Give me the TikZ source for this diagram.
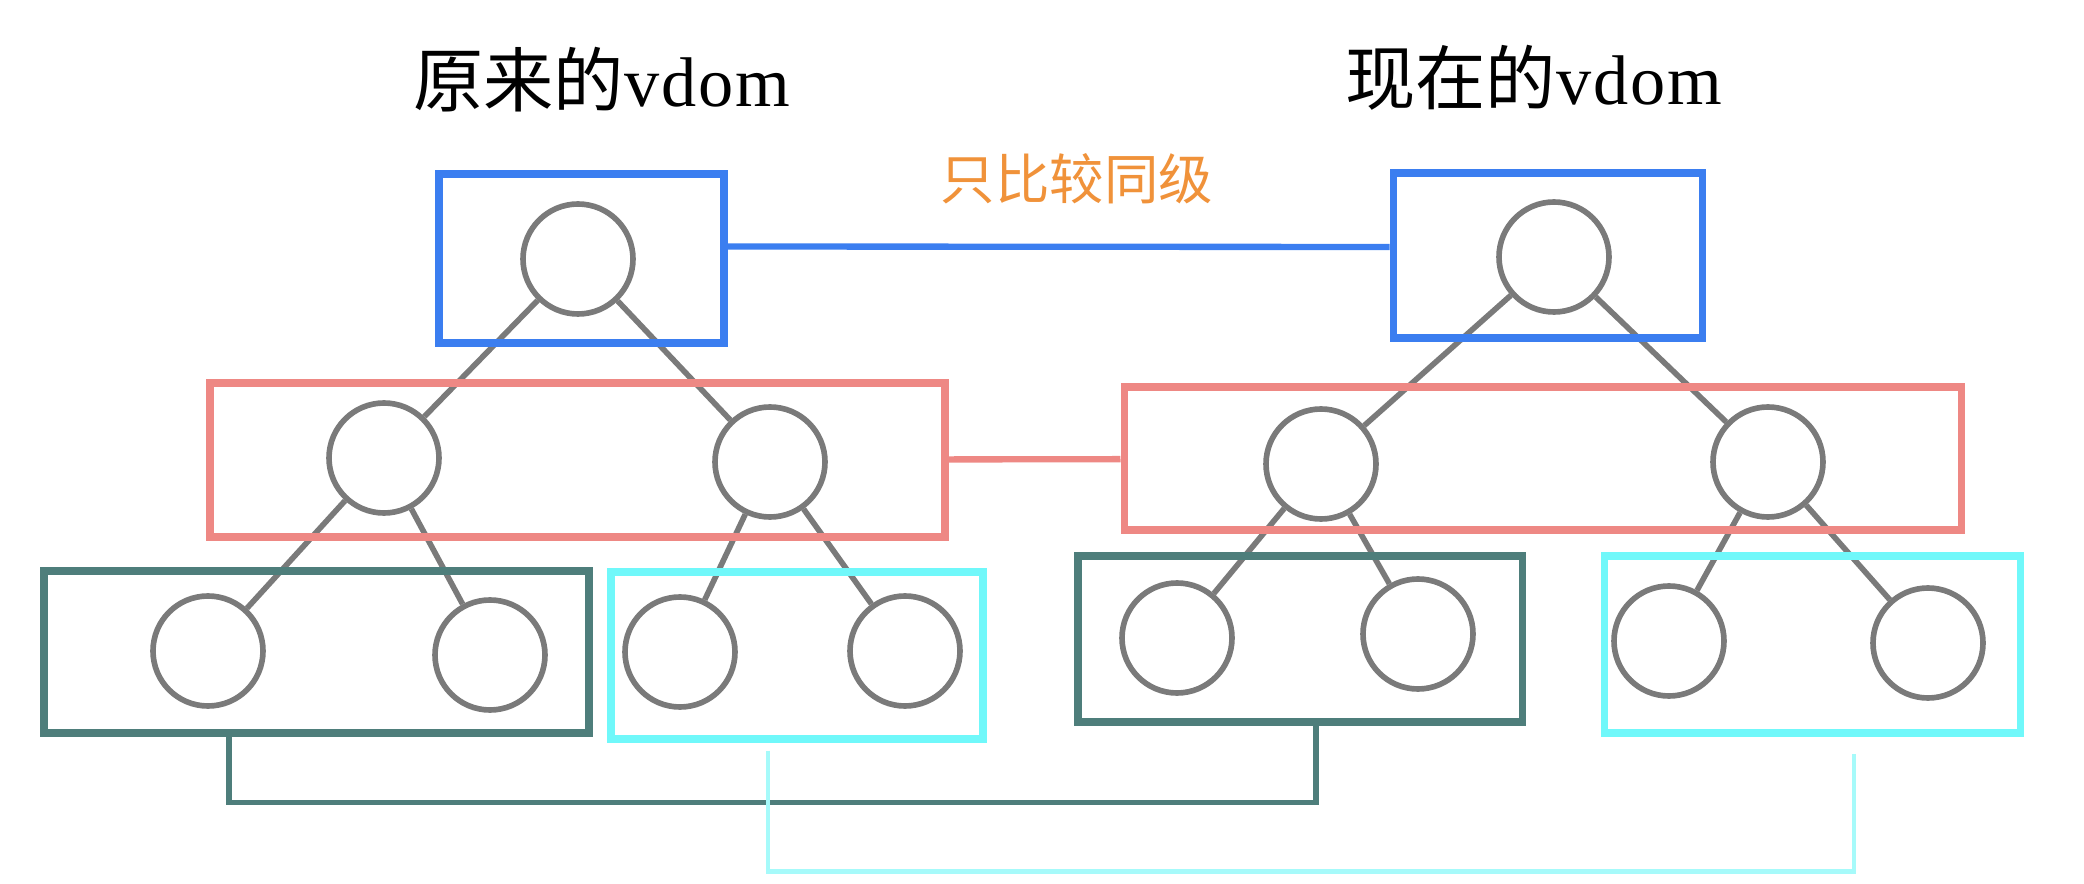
\documentclass[tikz,border=0pt]{standalone}
\usepackage{fontspec}
\setmainfont{Liberation Serif}
\newfontfamily\cjk{Noto Sans CJK SC}
\newfontfamily\latin[LetterSpace=3]{Liberation Serif}
\usepackage{tikz}
\definecolor{circgray}{RGB}{122,122,122}
\definecolor{boxblue}{RGB}{59,126,240}
\definecolor{boxred}{RGB}{238,136,132}
\definecolor{boxteal}{RGB}{78,126,123}
\definecolor{boxcyan}{RGB}{112,248,250}
\definecolor{linecyan}{RGB}{166,250,250}
\definecolor{textorange}{RGB}{240,146,58}
\tikzstyle{vnode} = [circle,draw=circgray,fill=white,line width=1.6pt,minimum size=1.1cm,inner sep=0pt]
\tikzstyle{edge} = [draw=circgray,line width=1.6pt]
\tikzstyle{box} = [rectangle,line width=2pt,inner sep=0pt]
\tikzstyle{link} = [line width=1.8pt]
\tikzstyle{title} = [font=\fontsize{20}{24}\selectfont]

\begin{document}
\begin{tikzpicture}
		\useasboundingbox (0,0) rectangle (20.84,-8.84);

		\node [title](old) at (6.02,-0.80){\cjk 原来的\latin vdom};
		\node [title](new) at (15.34,-0.78){\cjk 现在的\latin vdom};
		\node [font=\fontsize{15.5}{18}\selectfont\cjk,text=textorange](same) at (10.77,-1.79){只比较同级};

		\node [vnode](lr) at (5.78,-2.59){};
		\node [vnode,below of=lr,xshift=-1.94cm,yshift=-.99cm](la){};
		\node [vnode,below of=lr,xshift=1.92cm,yshift=-1.03cm](lb){};
		\node [vnode,below of=la,xshift=-1.76cm,yshift=-.93cm](laa){};
		\node [vnode,below of=la,xshift=1.06cm,yshift=-.97cm](lab){};
		\node [vnode,below of=lb,xshift=-.90cm,yshift=-.90cm](lba){};
		\node [vnode,below of=lb,xshift=1.35cm,yshift=-.89cm](lbb){};

		\node [vnode](rr) at (15.54,-2.57){};
		\node [vnode,below of=rr,xshift=-2.33cm,yshift=-1.07cm](ra){};
		\node [vnode,below of=rr,xshift=2.14cm,yshift=-1.05cm](rb){};
		\node [vnode,below of=ra,xshift=-1.44cm,yshift=-.74cm](raa){};
		\node [vnode,below of=ra,xshift=.97cm,yshift=-.70cm](rab){};
		\node [vnode,below of=rb,xshift=-.99cm,yshift=-.79cm](rba){};
		\node [vnode,below of=rb,xshift=1.60cm,yshift=-.81cm](rbb){};

		\draw[edge](lr)--(la);
		\draw[edge](lr)--(lb);
		\draw[edge](la)--(laa);
		\draw[edge](la)--(lab);
		\draw[edge](lb)--(lba);
		\draw[edge](lb)--(lbb);
		\draw[edge](rr)--(ra);
		\draw[edge](rr)--(rb);
		\draw[edge](ra)--(raa);
		\draw[edge](ra)--(rab);
		\draw[edge](rb)--(rba);
		\draw[edge](rb)--(rbb);

		\node [box,draw=boxblue,minimum width=2.85cm,minimum height=1.69cm](lblue) at (5.815,-2.585){};
		\node [box,draw=boxblue,minimum width=3.09cm,minimum height=1.65cm](rblue) at (15.475,-2.555){};
		\node [box,draw=boxred,minimum width=7.35cm,minimum height=1.54cm](lred) at (5.775,-4.60){};
		\node [box,draw=boxred,minimum width=8.37cm,minimum height=1.43cm](rred) at (15.425,-4.585){};
		\node [box,draw=boxteal,minimum width=5.45cm,minimum height=1.62cm](lteal) at (3.165,-6.52){};
		\node [box,draw=boxcyan,minimum width=3.72cm,minimum height=1.67cm](lcyan) at (7.97,-6.555){};
		\node [box,draw=boxteal,minimum width=4.44cm,minimum height=1.66cm](rteal) at (13.00,-6.39){};
		\node [box,draw=boxcyan,minimum width=4.16cm,minimum height=1.77cm](rcyan) at (18.12,-6.445){};

		\draw[link,boxblue]([yshift=.12cm]lblue.east)--([yshift=.085cm]rblue.west);
		\draw[link,boxred](lred)--(rred);
		\draw[link,boxteal,line width=1.5pt]([xshift=-.875cm]lteal.south)--++(0,-.66)-|([xshift=.16cm]rteal.south);
		\draw[link,linecyan,line width=1.4pt]([xshift=-.29cm,yshift=-.08cm]lcyan.south)--++(0,-1.21)-|([xshift=.42cm,yshift=-.17cm]rcyan.south);
		\end{tikzpicture}
\end{document}
